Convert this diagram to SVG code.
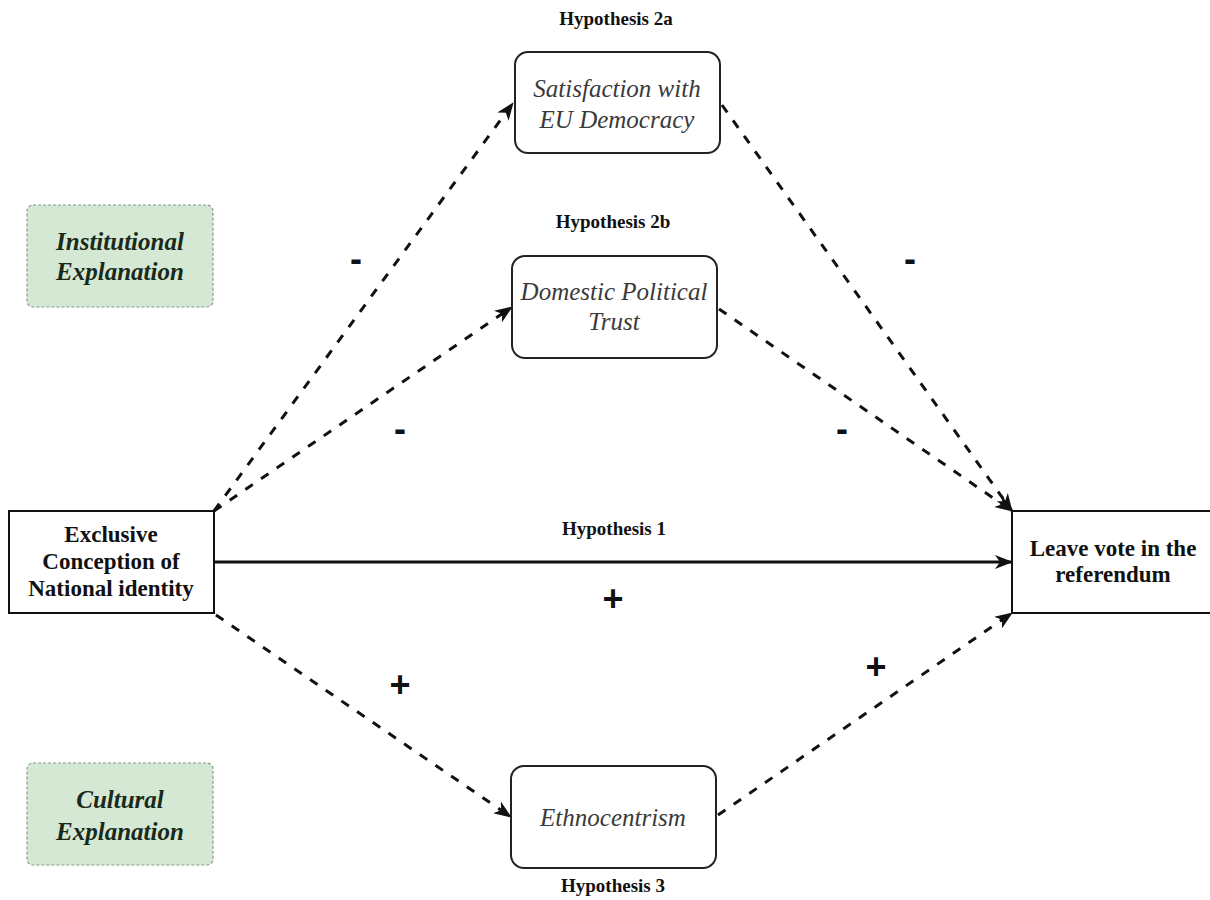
<svg xmlns="http://www.w3.org/2000/svg" width="1210" height="900" viewBox="0 0 1210 900">
  <style>
    .bg { fill: #ffffff; }
    .box { fill: #ffffff; stroke: #111111; stroke-width: 2; }
    .rbox { fill: #ffffff; stroke: #222222; stroke-width: 2; }
    .gbox { fill: #d5e8d4; stroke: #8a9a85; stroke-width: 1.2; stroke-dasharray: 3 2; }
    .bold { font-family: "Liberation Serif", "Times New Roman", serif; font-weight: bold; fill: #111111; text-anchor: middle; }
    .ital { font-family: "Liberation Serif", "Times New Roman", serif; font-style: italic; fill: #3a3a3a; text-anchor: middle; font-size: 25px; }
    .gtxt { font-family: "Liberation Serif", "Times New Roman", serif; font-style: italic; font-weight: bold; fill: #1a2a1a; text-anchor: middle; font-size: 25px; }
    .hyp { font-size: 19px; }
    .main { font-size: 23px; }
    .sign { font-family: "Liberation Sans", Arial, sans-serif; font-weight: bold; font-size: 36px; fill: #111111; text-anchor: middle; }
    .dash { fill: none; stroke: #111111; stroke-width: 3; stroke-dasharray: 9 10; marker-end: url(#arr); }
    .solid { fill: none; stroke: #111111; stroke-width: 3; marker-end: url(#arr); }
  </style>
  <defs>
    <marker id="arr" markerUnits="userSpaceOnUse" markerWidth="18" markerHeight="14" refX="17" refY="7" orient="auto" viewBox="0 0 18 14">
      <path d="M0,0 L18,7 L0,14 L5,7 Z" fill="#111111"/>
    </marker>
  </defs>
  <rect class="bg" x="0" y="0" width="1210" height="900"/>

  <g id="connectors">
    <line class="dash" x1="214" y1="511" x2="513" y2="103"/>
    <line class="dash" x1="214" y1="511" x2="512" y2="307"/>
    <line class="dash" x1="722" y1="105" x2="1012" y2="511"/>
    <line class="dash" x1="719" y1="309" x2="1012" y2="511"/>
    <line class="solid" x1="214" y1="562" x2="1012" y2="562"/>
    <line class="dash" x1="216" y1="615" x2="511" y2="817"/>
    <line class="dash" x1="718" y1="815" x2="1012" y2="613"/>
  </g>

  <g id="labels">
    <text class="bold hyp" x="616" y="25">Hypothesis 2a</text>
    <text class="bold hyp" x="613" y="228">Hypothesis 2b</text>
    <text class="bold hyp" x="614" y="535">Hypothesis 1</text>
    <text class="bold hyp" x="613" y="892">Hypothesis 3</text>
    <text class="sign" x="356" y="271">-</text>
    <text class="sign" x="910" y="271">-</text>
    <text class="sign" x="400" y="441">-</text>
    <text class="sign" x="842" y="441">-</text>
    <text class="sign" x="613" y="611">+</text>
    <text class="sign" x="400" y="697">+</text>
    <text class="sign" x="876" y="679">+</text>
  </g>

  <g id="institutional">
    <rect class="gbox" x="27" y="205" width="186" height="102" rx="6"/>
    <text class="gtxt" x="120" y="250">Institutional</text>
    <text class="gtxt" x="120" y="280">Explanation</text>
  </g>

  <g id="cultural">
    <rect class="gbox" x="27" y="763" width="186" height="102" rx="6"/>
    <text class="gtxt" x="120" y="808">Cultural</text>
    <text class="gtxt" x="120" y="840">Explanation</text>
  </g>

  <g id="satisfaction">
    <rect class="rbox" x="515" y="52" width="205" height="101" rx="13"/>
    <text class="ital" x="617" y="97">Satisfaction with</text>
    <text class="ital" x="617" y="128">EU Democracy</text>
  </g>

  <g id="domestic">
    <rect class="rbox" x="512" y="256" width="205" height="102" rx="13"/>
    <text class="ital" x="614" y="300">Domestic Political</text>
    <text class="ital" x="614" y="330">Trust</text>
  </g>

  <g id="ethnocentrism">
    <rect class="rbox" x="511" y="766" width="205" height="102" rx="13"/>
    <text class="ital" x="613" y="826">Ethnocentrism</text>
  </g>

  <g id="exclusive">
    <rect class="box" x="9" y="511" width="205" height="102"/>
    <text class="bold main" x="111" y="542">Exclusive</text>
    <text class="bold main" x="111" y="569">Conception of</text>
    <text class="bold main" x="111" y="596">National identity</text>
  </g>

  <g id="leave">
    <rect class="box" x="1012" y="511" width="205" height="102"/>
    <text class="bold main" x="1113" y="556">Leave vote in the</text>
    <text class="bold main" x="1113" y="582">referendum</text>
  </g>
</svg>
